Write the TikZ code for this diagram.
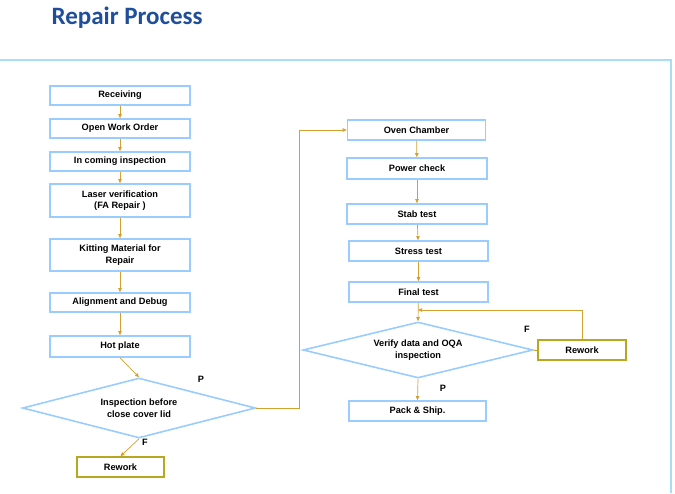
\documentclass[tikz,border=0pt]{standalone}
\usepackage{fontspec}
\setmainfont{Liberation Sans}
\newfontfamily\titlefont{Carlito}
\usetikzlibrary{shapes.geometric,arrows.meta}
\definecolor{bl}{HTML}{99CCFF}
\definecolor{fr}{HTML}{A8DCF8}
\definecolor{og}{HTML}{D4A030}
\definecolor{ol}{HTML}{B8A820}
\definecolor{tb}{HTML}{1F4E9A}
\begin{document}
\begin{tikzpicture}[x=1pt,y=-1pt,
  bx/.style={draw=bl,line width=1.6pt,fill=white,align=center,font=\bfseries\fontsize{9.2}{11.5}\selectfont,inner sep=0pt},
  rw/.style={draw=ol,line width=1.6pt,fill=white,font=\bfseries\fontsize{9.2}{11.5}\selectfont,inner sep=0pt},
  dm/.style={draw=bl,line width=1.6pt,diamond,aspect=3.9,align=center,font=\bfseries\fontsize{9.2}{11.5}\selectfont,inner sep=0pt},
  cn/.style={draw=og,line width=0.7pt,-{Triangle[length=4pt,width=3.5pt]}},
  cl/.style={draw=og,line width=0.7pt},
  lb/.style={font=\bfseries\fontsize{9.2}{11}\selectfont}]
\useasboundingbox (0,0) rectangle (675,493);
\node[anchor=west,text=tb,font=\titlefont\bfseries\fontsize{25}{27}\selectfont] (title) at (48,18) {Repair Process};
\draw[fr,line width=2.5pt] (0,60) -- (671,60) -- (671,493);
% left column
\node[bx,minimum width=140,minimum height=19] (r) at (120,95.5) {Receiving};
\node[bx,minimum width=140,minimum height=19] (o) at (120,128.5) {Open Work Order};
\node[bx,minimum width=140,minimum height=19] (i) at (120,161.5) {In coming inspection};
\node[bx,minimum width=140,minimum height=33] (l) at (120,200.5) {Laser verification\\(FA Repair )};
\node[bx,minimum width=140,minimum height=32] (k) at (120,255) {Kitting Material for\\Repair};
\node[bx,minimum width=140,minimum height=19] (a) at (120,302.5) {Alignment and Debug};
\node[bx,minimum width=140,minimum height=21] (h) at (120,346.5) {Hot plate};
\node[dm,minimum width=233,minimum height=60] (d1) at (139,408) {Inspection before\\close cover lid};
\node[rw,minimum width=87,minimum height=20] (rw1) at (120.5,467) {Rework};
% right column
\node[bx,minimum width=138,minimum height=20] (ov) at (416.5,130) {Oven Chamber};
\node[bx,minimum width=140,minimum height=21] (pc) at (417,168.5) {Power check};
\node[bx,minimum width=140,minimum height=20] (st) at (417,214) {Stab test};
\node[bx,minimum width=139,minimum height=20] (ss) at (418.5,251) {Stress test};
\node[bx,minimum width=139,minimum height=20] (ft) at (418.5,292) {Final test};
\node[dm,minimum width=230,minimum height=56] (d2) at (418,350) {Verify data and OQA\\inspection};
\node[rw,minimum width=88,minimum height=20] (rw2) at (582,350) {Rework};
\node[bx,minimum width=137,minimum height=20] (ps) at (417.5,411) {Pack \& Ship.};
% connectors
\draw[cn] (r) -- (o);
\draw[cn] (o) -- (i);
\draw[cn] (i) -- (l);
\draw[cn] (l) -- (k);
\draw[cn] (k) -- (a);
\draw[cn] (a) -- (h);
\draw[cn] (h.south) -- (d1.north);
\draw[cn] (d1.south) -- (rw1.north);
\coordinate (c1) at (299,408);
\coordinate (c2) at (299,130);
\draw[cn] (d1.east) -- (c1) -- (c2) -- (ov.west);
\draw[cn] (ov) -- (pc);
\draw[cn] (pc) -- (st);
\draw[cn] (st) -- (ss);
\draw[cn] (ss) -- (ft);
\draw[cn] (ft) -- (d2.north);
\coordinate (c3) at (582,310);
\coordinate (c4) at (418,310);
\draw[cn] (rw2.north) -- (c3) -- (c4);
\draw[cl] (rw2.west) -- (d2.east);
\draw[cn] (d2.south) -- (ps.north);
\node[lb] (p1) at (201,379) {P};
\node[lb] (f1) at (145,442) {F};
\node[lb] (f2) at (527,329) {F};
\node[lb] (p2) at (443,388) {P};
\end{tikzpicture}
\end{document}
